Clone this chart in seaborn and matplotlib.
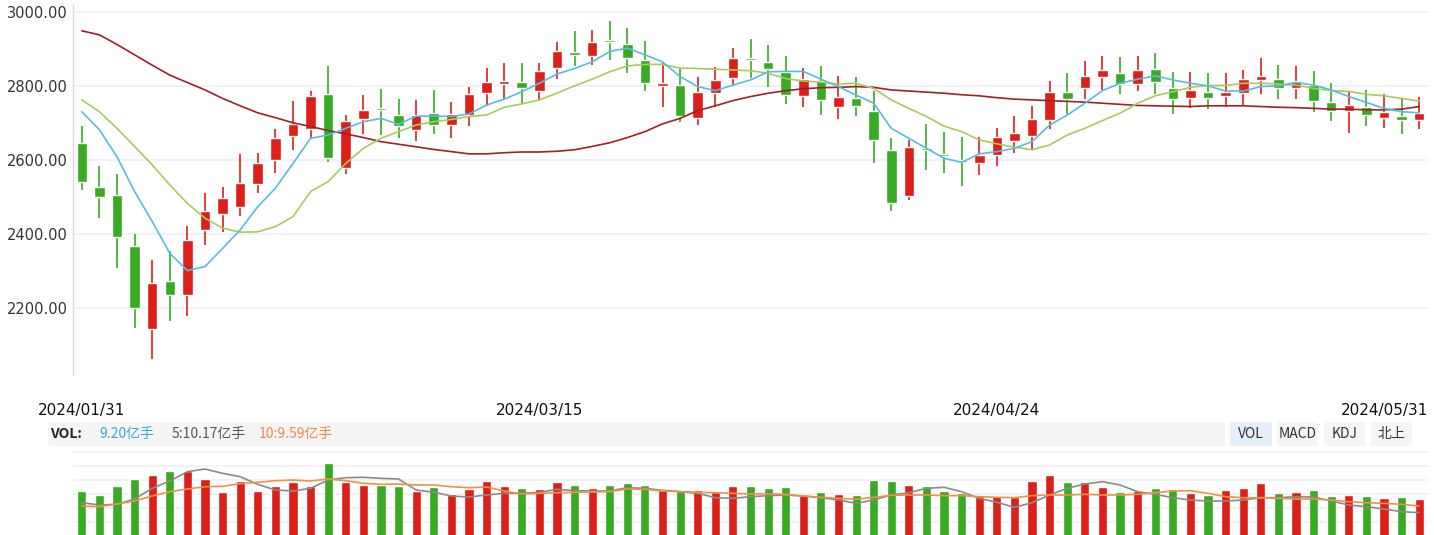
import numpy as np
import pandas as pd
import matplotlib
matplotlib.use("Agg")
import matplotlib.pyplot as plt
import seaborn as sns
from matplotlib.patches import FancyBboxPatch

# ---------------- data ----------------
tick_labels = ["2024/01/31", "2024/03/15", "2024/04/24", "2024/05/31"]
tick_index = [0, 26, 52, 76]

open_ = [2645.5, 2526.4, 2504.8, 2366.8, 2144.0, 2272.1, 2236.0, 2411.9, 2455.2, 2474.1,
         2534.6, 2601.3, 2666.3, 2685.2, 2778.1, 2579.7, 2712.3, 2741.1, 2721.3, 2682.5,
         2726.7, 2696.0, 2721.3, 2782.6, 2807.0, 2811.5, 2788.0, 2850.3, 2892.7, 2881.8,
         2925.1, 2914.3, 2871.0, 2801.6, 2803.4, 2715.0, 2782.6, 2823.2, 2876.4, 2865.6,
         2839.4, 2773.6, 2814.2, 2743.8, 2768.2, 2733.0, 2627.5, 2503.9, 2632.9, 2616.7,
         2599.5, 2593.2, 2614.8, 2652.7, 2666.3, 2709.6, 2784.4, 2796.1, 2825.9, 2835.8,
         2807.0, 2846.7, 2795.2, 2769.1, 2784.4, 2774.5, 2782.6, 2817.8, 2819.6, 2796.1,
         2803.4, 2757.4, 2733.9, 2743.8, 2715.0, 2719.5, 2709.6]
close = [2541.8, 2501.2, 2392.9, 2200.8, 2266.7, 2236.0, 2383.9, 2462.4, 2496.7, 2537.3,
         2591.4, 2659.0, 2696.9, 2772.7, 2606.7, 2705.0, 2734.8, 2736.6, 2693.3, 2721.3,
         2696.0, 2724.0, 2779.0, 2811.5, 2814.2, 2795.2, 2841.2, 2895.4, 2885.4, 2919.7,
         2920.6, 2877.3, 2809.7, 2808.8, 2719.5, 2784.4, 2816.9, 2876.4, 2871.9, 2846.7,
         2776.3, 2819.6, 2763.7, 2770.9, 2747.4, 2655.4, 2484.9, 2635.6, 2628.4, 2612.1,
         2595.0, 2613.9, 2662.7, 2673.5, 2711.4, 2784.4, 2766.4, 2827.7, 2843.9, 2807.0,
         2843.9, 2812.4, 2766.4, 2789.8, 2769.1, 2784.4, 2819.6, 2827.7, 2796.1, 2814.2,
         2761.0, 2733.9, 2749.2, 2723.1, 2730.3, 2709.6, 2727.6]
high = [2692.4, 2584.2, 2562.5, 2399.3, 2329.8, 2354.2, 2420.9, 2511.1, 2527.3, 2616.7,
        2618.5, 2684.3, 2760.1, 2787.1, 2854.8, 2721.3, 2775.4, 2792.5, 2765.5, 2762.8,
        2789.8, 2757.4, 2797.9, 2849.4, 2862.9, 2862.9, 2862.9, 2919.7, 2949.5, 2952.2,
        2976.5, 2957.6, 2922.4, 2862.9, 2846.7, 2825.0, 2852.1, 2903.5, 2927.8, 2911.6,
        2881.8, 2849.4, 2854.8, 2827.7, 2825.0, 2787.1, 2659.9, 2654.5, 2697.8, 2676.2,
        2662.7, 2662.7, 2687.1, 2719.5, 2746.5, 2814.2, 2835.8, 2868.3, 2881.8, 2879.1,
        2881.8, 2890.0, 2838.5, 2838.5, 2835.8, 2835.8, 2843.9, 2876.4, 2857.5, 2854.8,
        2841.2, 2808.8, 2784.4, 2789.8, 2779.0, 2766.4, 2770.9]
low = [2519.2, 2444.4, 2309.1, 2146.7, 2062.8, 2165.7, 2179.2, 2371.3, 2406.5, 2449.8,
       2512.0, 2566.1, 2627.5, 2657.2, 2595.0, 2563.4, 2671.7, 2668.1, 2660.9, 2652.7,
       2671.7, 2660.9, 2693.3, 2746.5, 2765.5, 2751.0, 2759.2, 2819.6, 2854.8, 2857.5,
       2871.0, 2835.8, 2788.0, 2743.8, 2703.4, 2696.0, 2743.8, 2802.5, 2822.3, 2797.9,
       2751.9, 2743.8, 2722.2, 2711.4, 2719.5, 2592.3, 2463.3, 2493.1, 2574.3, 2565.2,
       2530.9, 2560.7, 2585.1, 2620.3, 2631.1, 2685.2, 2725.8, 2765.5, 2789.8, 2779.0,
       2788.0, 2779.0, 2725.8, 2742.0, 2739.3, 2744.7, 2747.4, 2779.0, 2765.5, 2765.5,
       2731.2, 2706.9, 2674.4, 2693.3, 2687.9, 2671.7, 2685.2]

ma5 = [2731, 2682, 2609, 2515, 2434, 2348, 2301, 2312, 2361, 2411,
       2474, 2524, 2591, 2659, 2668, 2686, 2704, 2713, 2697, 2719,
       2719, 2718, 2725, 2749, 2765, 2785, 2808, 2833, 2848, 2866,
       2894, 2903, 2885, 2866, 2826, 2799, 2788, 2803, 2817, 2839,
       2840, 2840, 2819, 2799, 2776, 2754, 2686, 2659, 2632, 2605,
       2594, 2617, 2623, 2632, 2650, 2695, 2722, 2754, 2788, 2808,
       2819, 2828, 2817, 2808, 2801, 2787, 2787, 2799, 2801, 2810,
       2803, 2790, 2772, 2756, 2740, 2731, 2728]
ma10 = [2763, 2731, 2686, 2637, 2587, 2533, 2483, 2443, 2416, 2405,
        2406, 2420, 2447, 2515, 2542, 2591, 2632, 2659, 2677, 2695,
        2704, 2710, 2718, 2722, 2743, 2752, 2763, 2781, 2801, 2819,
        2839, 2855, 2859, 2859, 2849, 2848, 2846, 2844, 2842, 2835,
        2821, 2814, 2811, 2806, 2808, 2794, 2763, 2740, 2718, 2692,
        2677, 2655, 2644, 2635, 2628, 2641, 2668, 2686, 2707, 2727,
        2754, 2774, 2785, 2797, 2802, 2802, 2808, 2808, 2806, 2803,
        2794, 2788, 2786, 2778, 2774, 2767, 2760]
ma_long = [2950, 2939, 2913, 2885, 2857, 2830, 2810, 2790, 2767, 2747,
           2728, 2715, 2701, 2691, 2680, 2671, 2661, 2650, 2643, 2636,
           2629, 2623, 2617, 2617, 2620, 2622, 2622, 2624, 2628, 2637,
           2647, 2661, 2677, 2698, 2713, 2734, 2747, 2761, 2772, 2781,
           2788, 2793, 2796, 2797, 2799, 2797, 2790, 2787, 2784, 2781,
           2777, 2774, 2769, 2765, 2763, 2761, 2759, 2757, 2754, 2751,
           2748, 2747, 2746, 2745, 2747, 2747, 2747, 2745, 2743, 2742,
           2740, 2738, 2738, 2736, 2736, 2738, 2745]

volume = [11.25, 10.25, 12.5, 14.25, 15.25, 16.25, 16.25, 14.25, 11.0, 13.75,
          11.25, 12.5, 13.5, 12.5, 18.25, 13.5, 12.75, 12.75, 12.5, 11.25,
          12.25, 10.5, 11.75, 13.75, 12.5, 12.0, 11.75, 13.5, 12.75, 12.0,
          12.75, 13.25, 12.75, 11.5, 11.25, 11.5, 11.0, 12.5, 12.5, 12.0,
          12.25, 10.25, 11.0, 10.5, 10.25, 14.0, 13.75, 12.75, 12.5, 11.25,
          10.75, 10.0, 10.0, 9.75, 13.75, 15.25, 13.5, 13.5, 12.25, 11.0,
          11.25, 12.0, 11.75, 10.75, 10.25, 11.5, 12.0, 13.25, 10.75, 11.0,
          11.5, 10.0, 10.25, 10.0, 9.5, 9.75, 9.25]
vol_ma5 = [8.33, 7.75, 7.92, 9.25, 11.92, 13.75, 16.08, 16.75, 15.67, 14.83,
           12.92, 11.5, 11.25, 11.92, 14.0, 14.58, 14.67, 14.42, 14.25, 11.5,
           10.92, 10.0, 9.75, 10.25, 10.67, 10.67, 10.92, 11.67, 11.33, 11.25,
           11.25, 12.08, 11.92, 11.42, 11.08, 10.67, 9.58, 9.42, 9.83, 10.08,
           10.25, 10.0, 9.58, 9.0, 8.17, 9.0, 10.25, 10.83, 11.92, 12.17,
           11.08, 9.42, 8.42, 7.17, 8.33, 10.25, 11.92, 13.0, 13.58, 12.75,
           11.08, 10.42, 9.58, 9.0, 8.75, 8.75, 9.0, 9.58, 9.58, 9.83,
           9.75, 8.75, 7.75, 7.33, 6.75, 6.08, 5.83]
vol_ma10 = [7.5, 7.33, 8.0, 8.75, 10.0, 11.08, 11.75, 12.33, 12.42, 13.08,
            13.42, 13.83, 14.0, 13.75, 14.25, 13.83, 13.17, 12.92, 13.0, 12.75,
            12.75, 12.33, 12.08, 12.25, 11.25, 10.5, 10.67, 10.83, 10.92, 11.0,
            11.08, 11.75, 11.67, 11.25, 11.08, 10.92, 10.83, 10.67, 10.5, 10.58,
            10.42, 10.0, 9.67, 9.42, 9.17, 9.67, 10.17, 10.25, 10.25, 10.08,
            10.08, 9.83, 9.67, 9.58, 10.08, 10.25, 10.25, 10.42, 10.25, 10.25,
            10.42, 10.83, 11.25, 11.33, 10.67, 9.83, 9.58, 9.58, 9.42, 9.25,
            9.25, 9.0, 8.58, 8.33, 8.17, 7.92, 7.5]

y_ticks = [2200, 2400, 2600, 2800, 3000]
header_items = [("VOL:", "#222222"), ("9.20亿手", "#3aa6d4"),
                ("5:10.17亿手", "#555555"), ("10:9.59亿手", "#f0884a")]
buttons = ["VOL", "MACD", "KDJ", "北上"]

# ---------------- style ----------------
sns.set_style("white")
plt.rcParams["font.family"] = ["Noto Sans CJK SC", "DejaVu Sans"]

RED = "#dc1f18"
GREEN = "#38aa23"
GRID = "#eef1f6"

n = len(open_)
df = pd.DataFrame({"i": np.arange(n), "open": open_, "close": close, "high": high,
                   "low": low, "ma5": ma5, "ma10": ma10, "ma_long": ma_long,
                   "vol": volume, "vma5": vol_ma5, "vma10": vol_ma10})
df["dir"] = np.where(df["close"] >= df["open"], "up", "down")
colors = np.where(df["dir"] == "up", RED, GREEN)

W, H = 1434, 535
fig = plt.figure(figsize=(W / 100, H / 100), dpi=100)


def frac(x0, y0, x1, y1):
    return [x0 / W, 1 - y1 / H, (x1 - x0) / W, (y1 - y0) / H]


ax = fig.add_axes(frac(73, 5, 1428, 375))
axv = fig.add_axes(frac(73, 450, 1428, 536))

# ---------------- price panel ----------------
body_lo = np.minimum(df["open"], df["close"])
body_h = np.maximum(np.abs(df["close"] - df["open"]), 4)
ax.vlines(df["i"], df["low"], df["high"], colors=colors, lw=1.2, zorder=2)
ax.bar(df["i"], body_h, bottom=body_lo, width=0.6, color=colors, zorder=3)

sns.lineplot(data=df, x="i", y="ma_long", color="#9e2228", lw=1.2, ax=ax, zorder=4)
sns.lineplot(data=df, x="i", y="ma10", color="#a6cc5c", lw=1.2, ax=ax, zorder=4)
sns.lineplot(data=df, x="i", y="ma5", color="#55bde0", lw=1.2, ax=ax, zorder=4)

ax.set_xlim(-0.5, n - 0.5)
ax.set_ylim(2018.5, 3019.8)
ax.set_yticks(y_ticks)
ax.set_yticklabels([f"{v:.2f}" for v in y_ticks], family="DejaVu Sans")
ax.set_xticks([])
ax.set_xlabel("")
ax.set_ylabel("")
ax.tick_params(axis="y", length=0, pad=4, labelsize=10.5, labelcolor="#333333")
ax.yaxis.grid(True, color=GRID, lw=1.3)
ax.set_axisbelow(True)
for s in ["top", "right", "bottom"]:
    ax.spines[s].set_visible(False)
ax.spines["left"].set_color("#d3dbe6")
ax.spines["left"].set_linewidth(1)

for k, (idx, lab) in enumerate(zip(tick_index, tick_labels)):
    if k == len(tick_labels) - 1:
        ax.text(1.0, -0.0946, lab, transform=ax.transAxes, ha="right", va="center",
                fontsize=11, family="DejaVu Sans", color="#111111")
    else:
        ax.text(idx, -0.0946, lab, transform=ax.get_xaxis_transform(), ha="center",
                va="center", fontsize=11, family="DejaVu Sans", color="#111111")

# ---------------- volume panel ----------------
sns.barplot(data=df, x="i", y="vol", hue="dir", palette={"up": RED, "down": GREEN},
            native_scale=True, dodge=False, width=0.52, saturation=1,
            errorbar=None, legend=False, ax=axv, zorder=3)
sns.lineplot(data=df, x="i", y="vma5", color="#8a8a8a", lw=1.2, ax=axv, zorder=4)
sns.lineplot(data=df, x="i", y="vma10", color="#f29046", lw=1.2, ax=axv, zorder=4)
axv.set_xlim(-0.5, n - 0.5)
axv.set_ylim(0, 21.5)
axv.set_yticks(np.arange(3.5, 21.1, 3.5))
axv.set_xticks([])
axv.set_yticklabels([])
axv.set_xlabel("")
axv.set_ylabel("")
axv.tick_params(length=0)
axv.yaxis.grid(True, color=GRID, lw=1.3)
axv.set_axisbelow(True)
for s in axv.spines.values():
    s.set_visible(False)

# ---------------- header bar ----------------
ov = fig.add_axes([0, 0, 1, 1])
ov.set_xlim(0, W)
ov.set_ylim(H, 0)
ov.axis("off")
ov.patch.set_alpha(0)

ov.add_patch(FancyBboxPatch((48, 422), 1177, 24, boxstyle="round,pad=0,rounding_size=2",
                            fc="#f5f5f5", ec="none"))
hx = [50, 99, 172, 259]
for (txt, col), x0 in zip(header_items, hx):
    ov.text(x0, 434, txt, color=col, fontsize=10, va="center", ha="left",
            fontweight="bold" if txt == "VOL:" else "normal")

bx = [(1230, 1272), (1277, 1318), (1324, 1365), (1371, 1412)]
for lab, (x0, x1) in zip(buttons, bx):
    fc = "#e6eef9" if lab == "VOL" else "#f5f5f5"
    ov.add_patch(FancyBboxPatch((x0, 422), x1 - x0, 24,
                                boxstyle="round,pad=0,rounding_size=2", fc=fc, ec="none"))
    ov.text((x0 + x1) / 2, 434, lab, color="#333333", fontsize=10, ha="center", va="center")

fig.savefig("out.png", dpi=100)
